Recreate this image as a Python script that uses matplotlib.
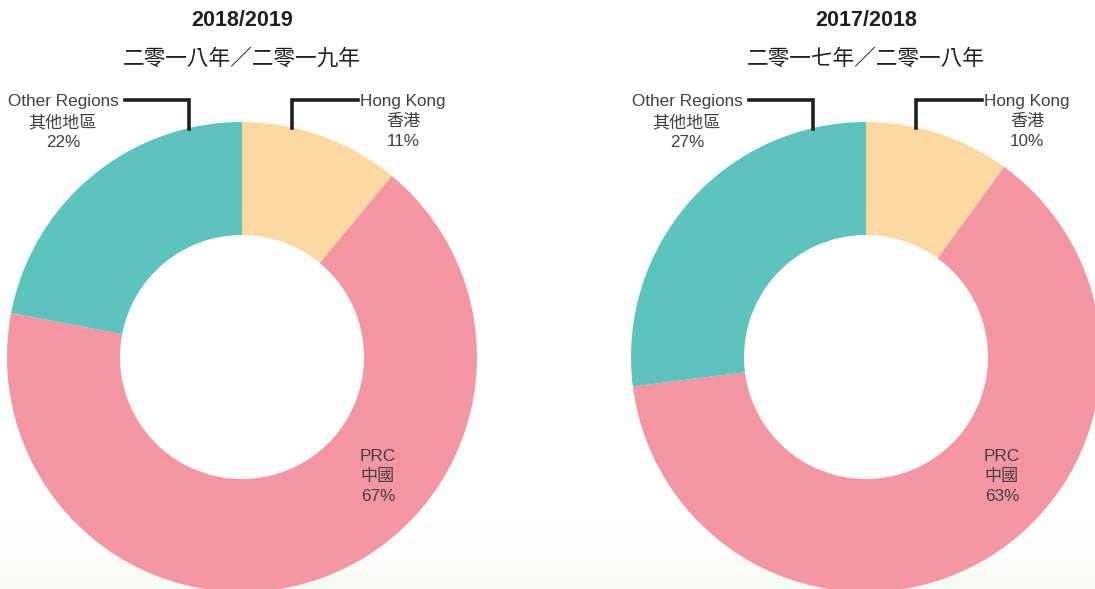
import matplotlib
matplotlib.use("Agg")
import matplotlib.pyplot as plt
import numpy as np

plt.rcParams['font.family'] = ['Liberation Sans', 'Noto Sans CJK TC', 'DejaVu Sans']

# data
years_en = ["2018/2019", "2017/2018"]
years_zh = ["二零一八年／二零一九年", "二零一七年／二零一八年"]
regions_en = ["Hong Kong", "PRC", "Other Regions"]
regions_zh = ["香港", "中國", "其他地區"]
share_1819 = [11, 67, 22]
share_1718 = [10, 63, 27]
colors = ["#FDD9A2", "#F597A2", "#5CC4BD"]

W, H = 1095, 589
fig = plt.figure(figsize=(W / 100, H / 100), dpi=100)
ax = fig.add_axes([0, 0, 1, 1])

# very faint grey-green band at the bottom
grad = np.linspace(0, 1, 60)[:, None]
ax.imshow(np.dstack([1 - 0.022 * grad, 1 - 0.015 * grad, 1 - 0.025 * grad]),
          extent=[0, W, H, 520], aspect="auto", zorder=0)

ink = "#231F20"
grey = "#404040"
lbl_font = 12.3
spacing = 1.42

panels = [(242, share_1819), (866, share_1718)]
for i, (cx, vals) in enumerate(panels):
    cy, r, w = 357, 235, 113
    # y axis is inverted, so counterclock=True runs clockwise on screen
    ax.pie(vals, colors=colors, center=(cx, cy), radius=r, startangle=-90,
           counterclock=True, wedgeprops=dict(width=w, linewidth=0),
           frame=True)
    ax.text(cx, 21, years_en[i], ha="center", va="center", fontsize=15.5,
            fontweight="bold", color=ink)
    ax.text(cx, 59, years_zh[i], ha="center", va="center", fontsize=15.6,
            color=ink)

    # Other Regions label + leader
    ax.text(cx - 179, 94, f"{regions_en[2]}\n{regions_zh[2]}\n{vals[2]}%",
            ha="center", va="top", fontsize=lbl_font, color=grey,
            linespacing=spacing)
    ax.plot([cx - 117, cx - 53, cx - 53], [100, 100, 129], color=ink, lw=2.6,
            solid_joinstyle="miter")
    # Hong Kong label + leader
    ax.text(cx + 161, 94, f"{regions_en[0]}\n{regions_zh[0]}\n{vals[0]}%",
            ha="center", va="top", fontsize=lbl_font, color=grey,
            linespacing=spacing)
    ax.plot([cx + 116, cx + 50, cx + 50], [100, 100, 128], color=ink, lw=2.6,
            solid_joinstyle="miter")
    # PRC label inside ring
    ax.text(cx + 136, 449, f"{regions_en[1]}\n{regions_zh[1]}\n{vals[1]}%",
            ha="center", va="top", fontsize=lbl_font, color=grey,
            linespacing=spacing)

ax.set_xlim(0, W)
ax.set_ylim(H, 0)
ax.set_aspect("auto")
ax.axis("off")

fig.savefig("out.png", dpi=100)
